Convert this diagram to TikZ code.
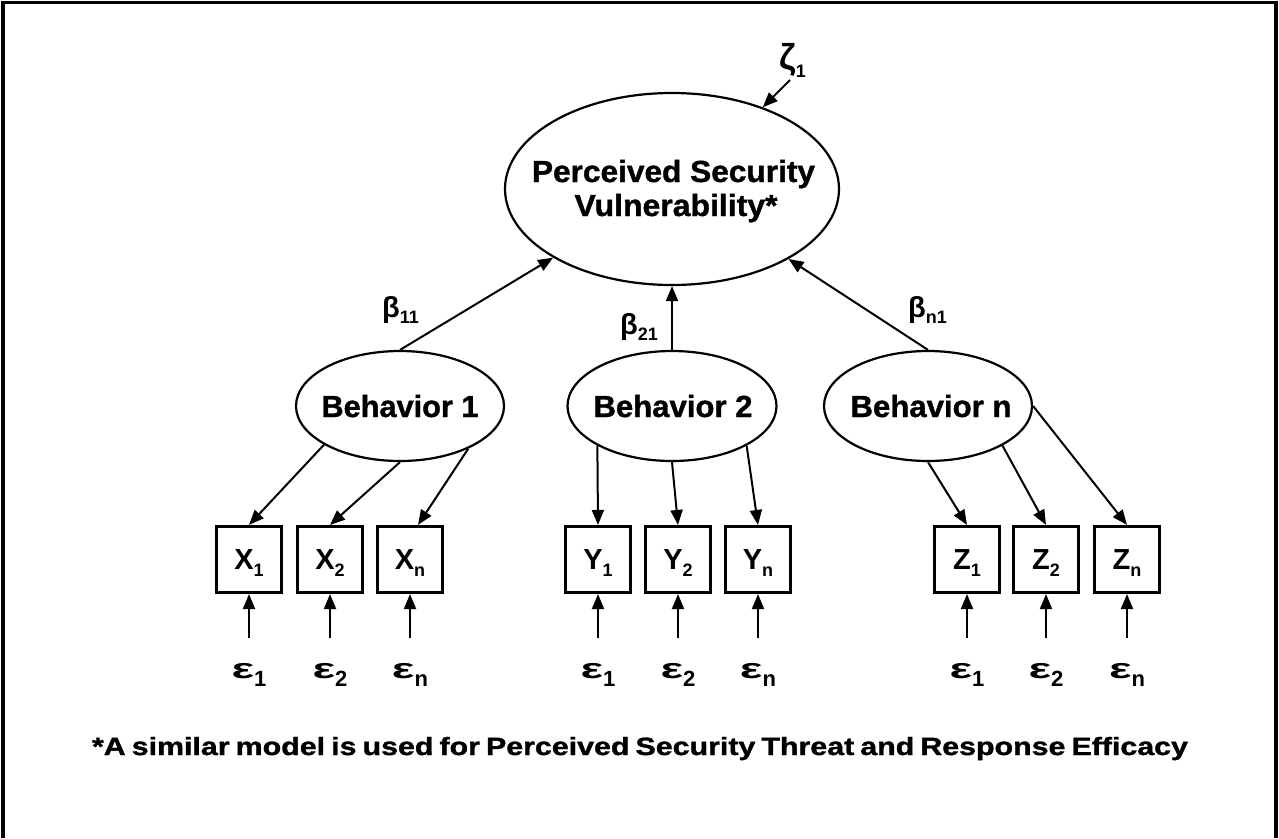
\documentclass[tikz,border=0pt]{standalone}
\usepackage{fontspec}
\setmainfont{Liberation Sans}
\newfontfamily\heavyfont{Liberation Sans}[BoldFeatures={FakeBold=1.2}]
\usepackage{graphicx}
\usetikzlibrary{arrows.meta,shapes.geometric}

% heavy label stretched horizontally to a given width (pt)
\newcommand\widelabel[3]{\resizebox{#1pt}{\height}{\heavyfont\bfseries\fontsize{#2}{#2}\selectfont #3}}
% lowered subscript
\newcommand\lowsub[2]{\raisebox{-#1pt}{#2}}
\newcommand\epslabel[1]{{\bfseries\fontsize{28}{28}\selectfont\scalebox{1.7}[1]{ε}\lowsub{8}{\fontsize{22}{22}\selectfont #1}}}
\newcommand\betalabel[1]{{\bfseries\fontsize{29}{29}\selectfont β\lowsub{6}{\fontsize{18}{18}\selectfont #1}}}
\newcommand\boxlabel[2]{\bfseries #1\lowsub{7}{\fontsize{18}{18}\selectfont #2}}

\begin{document}
\begin{tikzpicture}[x=1pt,y=-1pt,
  latent/.style={draw, ellipse, line width=2.2pt, inner sep=0pt},
  manifest/.style={draw, rectangle, line width=2.6pt, minimum width=65.5pt,
    minimum height=66.5pt, inner sep=0pt, text depth=0pt,
    font=\fontsize{29}{29}\selectfont},
  link/.style={line width=2pt, -{Triangle[length=15pt,width=12pt]}},
  word/.style={inner sep=0pt, anchor=base},
]
\useasboundingbox (0,0) rectangle (1279,838);

% open frame
\draw[line width=3.3pt] (3,838) -- (3,2.5) -- (1276,2.5) -- (1276,838);

% top-level latent variable
\node[latent, minimum width=334pt, minimum height=192pt] (pv) at (672,189) {};
\node[word] (pv1) at (673.5,182) {\widelabel{283}{30.5}{Perceived Security}};
\node[word] (pv2) at (676,216) {\widelabel{203}{30.5}{Vulnerability*}};

% disturbance
\node[word, anchor=base west] (zeta) at (779,69)
  {\bfseries\fontsize{36}{36}\selectfont ζ\lowsub{8}{\fontsize{18}{18}\selectfont 1}};
\coordinate (zt) at (790,80);
\draw[link] (zt) -- (pv.42);

% behaviours
\node[latent, minimum width=208pt, minimum height=110pt] (b1) at (400,406) {};
\node[latent, minimum width=209pt, minimum height=110pt] (b2) at (672,406) {};
\node[latent, minimum width=208pt, minimum height=110pt] (bn) at (928,406) {};
\node[word] (b1t) at (400,417) {\widelabel{157}{30.5}{Behavior 1}};
\node[word] (b2t) at (673,417) {\widelabel{159}{30.5}{Behavior 2}};
\node[word] (bnt) at (931,417) {\widelabel{161}{30.5}{Behavior n}};

% structural paths
\draw[link] (b1.north) -- (pv.210.5);
\draw[link] (b2.north) -- (pv.south);
\draw[link] (bn.north) -- (pv.329.7);
\node[word, anchor=base west] (beta1) at (382,317) {\betalabel{11}};
\node[word, anchor=base west] (beta2) at (620,334) {\betalabel{21}};
\node[word, anchor=base west] (betan) at (908,317) {\betalabel{n1}};

% indicators
\node[manifest] (x1) at (249,559.5) {\boxlabel{X}{1}};
\node[manifest] (x2) at (330,559.5) {\boxlabel{X}{2}};
\node[manifest] (xn) at (410,559.5) {\boxlabel{X}{n}};
\node[manifest] (y1) at (598,559.5) {\boxlabel{Y}{1}};
\node[manifest] (y2) at (678,559.5) {\boxlabel{Y}{2}};
\node[manifest] (yn) at (758,559.5) {\boxlabel{Y}{n}};
\node[manifest] (z1) at (967,559.5) {\boxlabel{Z}{1}};
\node[manifest] (z2) at (1046,559.5) {\boxlabel{Z}{2}};
\node[manifest] (zn) at (1127,559.5) {\boxlabel{Z}{n}};

% loadings
\draw[link] (b1.207.7) -- (x1.north);
\draw[link] (b1.south) -- (x2.north);
\draw[link] (b1.328.3) -- ([xshift=8pt]xn.north);
\draw[link] (b2.208.7) -- (y1.north);
\draw[link] (b2.south) -- (y2.north);
\draw[link] (b2.332.3) -- (yn.north);
\draw[link] (bn.south) -- (z1.north);
\draw[link] (bn.332.3) -- (z2.north);
\draw[link] (bn.east) -- (zn.north);

% measurement errors
\foreach \b/\s in {x1/1,x2/2,xn/n,y1/1,y2/2,yn/n,z1/1,z2/2,zn/n}{
  \coordinate (\b-e) at ([yshift=-44pt]\b.south);
  \draw[link] (\b-e) -- (\b.south);
  \node[word] (\b-eps) at ([yshift=-84pt]\b.south) {\epslabel{\s}};
}

% note
\node[word] (note) at (640,755)
  {\widelabel{1096}{25}{\spaceskip=0.2em *A similar model is used for Perceived Security Threat and Response Efficacy}};
\end{tikzpicture}
\end{document}
